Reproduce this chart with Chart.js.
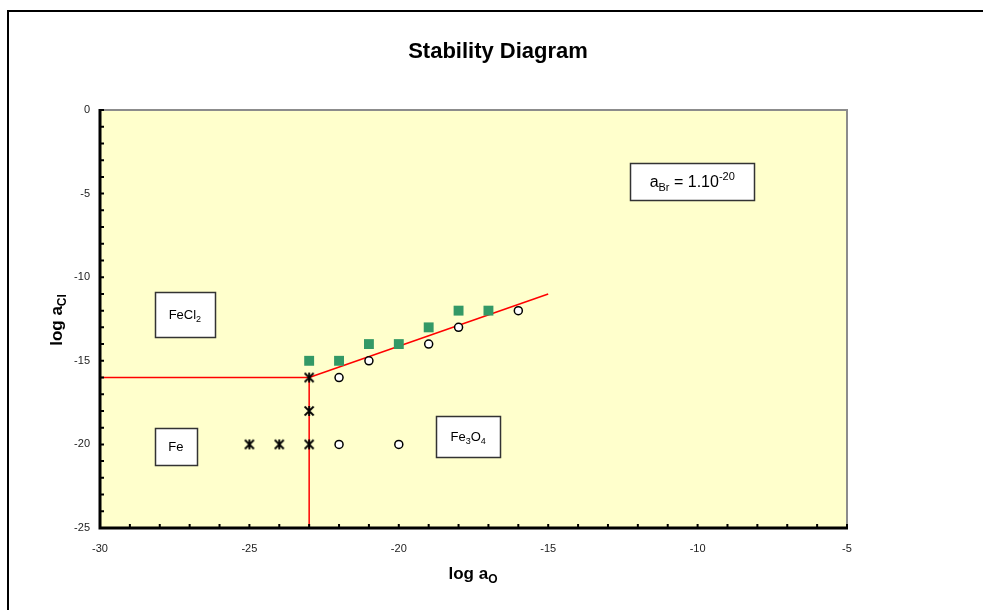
<!DOCTYPE html>
<html>
<head>
    <title>Stability Diagram</title>
    <style>
        body {
            margin: 0;
            background-color: white;
        }
        #diagram {
            display: block;
        }
    </style>
</head>
<body>
    <canvas id="diagram" width="983" height="610"></canvas>

    <script src="https://cdn.jsdelivr.net/npm/chart.js"></script>
    <script>
        // log a_O (x) / log a_Cl (y) measurements
        var squareX = [-23, -22, -21, -20, -19, -18, -17];
        var squareY = [-15, -15, -14, -14, -13, -12, -12];

        var circleX = [-22, -21, -19, -18, -16, -22, -20];
        var circleY = [-16, -15, -14, -13, -12, -20, -20];

        var starX = [-25, -24, -23, -23, -23];
        var starY = [-20, -20, -20, -18, -16];

        // phase boundaries
        var feFeCl2X = [-30, -23];
        var feFeCl2Y = [-16, -16];
        var feFe3O4X = [-23, -23];
        var feFe3O4Y = [-16, -25];
        var feCl2Fe3O4X = [-23, -15];
        var feCl2Fe3O4Y = [-16, -11];

        var xTicks = [-30, -25, -20, -15, -10, -5];
        var yTicks = [0, -5, -10, -15, -20, -25];

        function toPoints(xs, ys) {
            return xs.map(function(x, i) { return { x: x, y: ys[i] }; });
        }

        // star marker: an x with a vertical stroke through it
        var starMark = document.createElement('canvas');
        starMark.width = 12;
        starMark.height = 12;
        (function() {
            var c = starMark.getContext('2d');
            c.strokeStyle = 'black';
            c.lineWidth = 1.8;
            c.beginPath();
            c.moveTo(1.5, 1.5); c.lineTo(10.5, 10.5);
            c.moveTo(10.5, 1.5); c.lineTo(1.5, 10.5);
            c.moveTo(6, 1); c.lineTo(6, 11);
            c.stroke();
        })();

        var FONT = '"Liberation Sans", Arial, sans-serif';

        // text pieces: [string, size, offsetY] ; offset positive = down
        function drawRich(ctx, parts, x, y, bold, align) {
            var w = 0;
            parts.forEach(function(p) {
                ctx.font = (bold ? 'bold ' : '') + p[1] + 'px ' + FONT;
                w += ctx.measureText(p[0]).width;
            });
            var cx = align === 'center' ? x - w / 2 : x;
            ctx.textAlign = 'left';
            ctx.textBaseline = 'alphabetic';
            parts.forEach(function(p) {
                ctx.font = (bold ? 'bold ' : '') + p[1] + 'px ' + FONT;
                ctx.fillText(p[0], cx, y + p[2]);
                cx += ctx.measureText(p[0]).width;
            });
            return w;
        }

        // region labels placed in data coordinates
        var regionLabels = [
            { parts: [['FeCl', 13, 0], ['2', 9, 3]], x: -27.16, y: -12.23, w: 60, h: 45 },
            { parts: [['Fe', 13, 0]], x: -27.46, y: -20.13, w: 42, h: 37 },
            { parts: [['Fe', 13, 0], ['3', 9, 3], ['O', 13, 0], ['4', 9, 3]], x: -17.68, y: -19.53, w: 64, h: 41 },
            { parts: [['a', 16, 0], ['Br', 11, 4], [' = 1.10', 16, 0], ['-20', 11, -7]], x: -10.18, y: -4.28, w: 124, h: 37 }
        ];

        var framePlugin = {
            id: 'frame',
            beforeDraw: function(chart) {
                var ctx = chart.ctx;
                var a = chart.chartArea;
                ctx.save();
                ctx.fillStyle = 'white';
                ctx.fillRect(0, 0, chart.width, chart.height);
                ctx.strokeStyle = 'black';
                ctx.lineWidth = 2;
                ctx.strokeRect(8, 11, chart.width + 20, chart.height + 20);
                ctx.fillStyle = '#FFFFCC';
                ctx.fillRect(a.left, a.top, a.right - a.left, a.bottom - a.top);
                ctx.restore();
            },
            afterDatasetsDraw: function(chart) {
                var ctx = chart.ctx;
                var a = chart.chartArea;
                var xs = chart.scales.x;
                var ys = chart.scales.y;
                ctx.save();

                // plot area border
                ctx.strokeStyle = '#8c8c8c';
                ctx.lineWidth = 2;
                ctx.beginPath();
                ctx.moveTo(a.left, a.top);
                ctx.lineTo(a.right, a.top);
                ctx.lineTo(a.right, a.bottom);
                ctx.stroke();

                ctx.strokeStyle = 'black';
                ctx.lineWidth = 3;
                ctx.beginPath();
                ctx.moveTo(a.left, a.top - 1);
                ctx.lineTo(a.left, a.bottom);
                ctx.lineTo(a.right + 1, a.bottom);
                ctx.stroke();

                // tick marks every unit
                ctx.lineWidth = 2;
                ctx.beginPath();
                for (var v = xs.min; v <= xs.max; v++) {
                    var px = xs.getPixelForValue(v);
                    ctx.moveTo(px, a.bottom - 4);
                    ctx.lineTo(px, a.bottom + 1);
                }
                for (var w = ys.min; w <= ys.max; w++) {
                    var py = ys.getPixelForValue(w);
                    ctx.moveTo(a.left - 1, py);
                    ctx.lineTo(a.left + 4, py);
                }
                ctx.stroke();

                // region labels
                regionLabels.forEach(function(r) {
                    var cx = xs.getPixelForValue(r.x);
                    var cy = ys.getPixelForValue(r.y);
                    var bx = Math.round(cx - r.w / 2) + 0.5;
                    var by = Math.round(cy - r.h / 2) + 0.5;
                    ctx.fillStyle = 'white';
                    ctx.fillRect(bx, by, r.w, r.h);
                    ctx.strokeStyle = '#333';
                    ctx.lineWidth = 1.5;
                    ctx.strokeRect(bx, by, r.w, r.h);
                    ctx.fillStyle = 'black';
                    drawRich(ctx, r.parts, cx, cy + r.parts[0][1] * 0.36, false, 'center');
                });

                // titles
                ctx.fillStyle = 'black';
                drawRich(ctx, [['Stability Diagram', 22, 0]], 498, 58, true, 'center');
                drawRich(ctx, [['log a', 17, 0], ['O', 12, 4]], 473, 579, true, 'center');

                ctx.translate(62, 320);
                ctx.rotate(-Math.PI / 2);
                drawRich(ctx, [['log a', 17, 0], ['Cl', 12, 4]], 0, 0, true, 'center');

                ctx.restore();
            }
        };

        function boundary(xs, ys) {
            return {
                type: 'line',
                data: toPoints(xs, ys),
                borderColor: '#ff0000',
                borderWidth: 1.5,
                pointRadius: 0,
                fill: false,
                clip: false,
                order: 5
            };
        }

        new Chart(document.getElementById('diagram').getContext('2d'), {
            type: 'scatter',
            data: {
                datasets: [
                    boundary(feFeCl2X, feFeCl2Y),
                    boundary(feFe3O4X, feFe3O4Y),
                    boundary(feCl2Fe3O4X, feCl2Fe3O4Y),
                    {
                        data: toPoints(squareX, squareY),
                        pointStyle: 'rect',
                        pointRadius: 7,
                        backgroundColor: '#339966',
                        borderColor: '#339966',
                        borderWidth: 0,
                        order: 1
                    },
                    {
                        data: toPoints(circleX, circleY),
                        pointStyle: 'circle',
                        pointRadius: 4,
                        backgroundColor: 'white',
                        borderColor: 'black',
                        borderWidth: 1.5,
                        order: 1
                    },
                    {
                        data: toPoints(starX, starY),
                        pointStyle: starMark,
                        order: 1
                    }
                ]
            },
            options: {
                responsive: false,
                animation: false,
                devicePixelRatio: 1,
                layout: {
                    padding: { left: 0, top: 110, right: 136, bottom: 52 }
                },
                plugins: {
                    legend: { display: false },
                    tooltip: { enabled: false }
                },
                scales: {
                    x: {
                        type: 'linear',
                        min: -30,
                        max: -5,
                        grid: { display: false },
                        border: { display: false },
                        afterFit: function(scale) { scale.height = 30; },
                        ticks: {
                            stepSize: 1,
                            autoSkip: false,
                            maxRotation: 0,
                            padding: 6,
                            color: '#222',
                            font: { family: FONT, size: 11 },
                            callback: function(v) { return xTicks.indexOf(v) >= 0 ? String(v) : ''; }
                        }
                    },
                    y: {
                        type: 'linear',
                        min: -25,
                        max: 0,
                        grid: { display: false },
                        border: { display: false },
                        afterFit: function(scale) { scale.width = 100; },
                        ticks: {
                            stepSize: 1,
                            autoSkip: false,
                            padding: 2,
                            color: '#222',
                            font: { family: FONT, size: 11 },
                            callback: function(v) { return yTicks.indexOf(v) >= 0 ? String(v) : ''; }
                        }
                    }
                }
            },
            plugins: [framePlugin]
        });
    </script>
</body>
</html>
